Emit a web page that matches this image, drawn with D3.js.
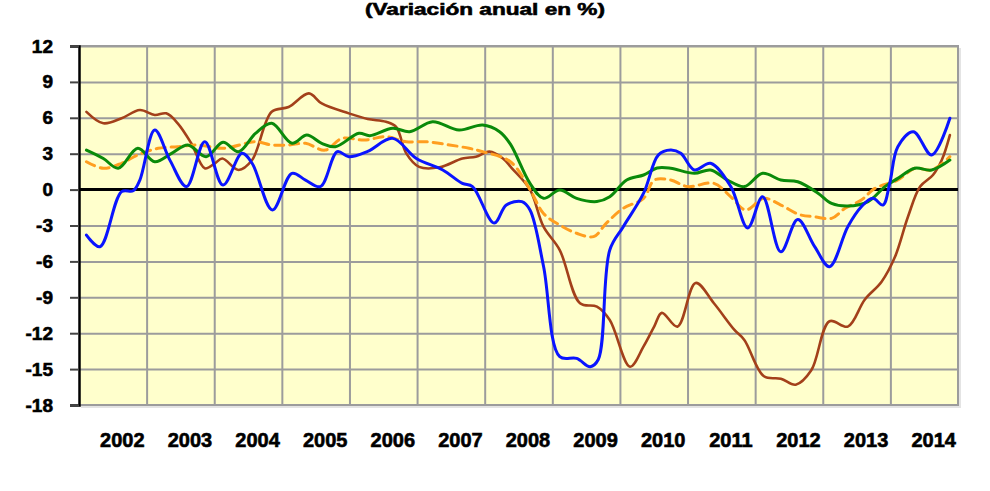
<!DOCTYPE html>
<html>
<head>
<meta charset="utf-8">
<script src="https://cdn.jsdelivr.net/npm/d3@7/dist/d3.min.js"></script>
<style>
  html, body { margin: 0; padding: 0; background: #ffffff; }
  svg { display: block; }
  text { font-family: "Liberation Sans", Arial, sans-serif; font-weight: bold; fill: #000; }
</style>
</head>
<body>
<svg id="chart" width="990" height="491"></svg>
<script>
// ---- Data ----
const titleText = "(Variación anual en %)";
const yearLabels = ["2002","2003","2004","2005","2006","2007","2008","2009","2010","2011","2012","2013","2014"];
const yTickValues = [12, 9, 6, 3, 0, -3, -6, -9, -12, -15, -18];

// [year (decimal), value]
const blueSeries = [
  [2002.11,-3.8],[2002.31,-4.77],[2002.63,-0.17],[2002.80,-0.1],[2002.90,0.8],[2003.12,4.98],
  [2003.35,2.4],[2003.59,0.25],[2003.86,4.0],[2004.13,0.38],[2004.41,3.03],[2004.56,2.2],
  [2004.86,-1.7],[2005.15,1.36],[2005.35,0.8],[2005.57,0.25],[2005.82,3.17],[2005.99,2.75],
  [2006.27,3.2],[2006.64,4.28],[2006.99,2.6],[2007.38,1.64],[2007.67,0.52],[2007.82,0.25],
  [2008.14,-2.8],[2008.32,-1.29],[2008.55,-1.0],[2008.67,-1.7],[2008.87,-6.4],[2009.11,-13.96],
  [2009.36,-14.1],[2009.56,-14.8],[2009.68,-14.2],[2009.85,-5.05],[2010.05,-3.1],[2010.35,-0.3],
  [2010.57,2.9],[2010.75,3.3],[2010.90,3.03],[2011.10,1.64],[2011.34,2.2],[2011.64,0.25],
  [2011.89,-3.2],[2012.11,-0.6],[2012.38,-5.2],[2012.63,-2.5],[2012.88,-4.77],[2013.10,-6.44],
  [2013.37,-3.1],[2013.57,-1.43],[2013.74,-0.73],[2013.89,-1.29],[2013.99,0.52],[2014.11,3.58],
  [2014.34,4.84],[2014.61,2.9],[2014.88,5.96]
];
const brownSeries = [
  [2002.11,6.5],[2002.36,5.54],[2002.63,5.96],[2002.90,6.65],[2003.12,6.23],[2003.29,6.37],
  [2003.46,5.54],[2003.66,3.87],[2003.86,1.78],[2004.01,2.2],[2004.12,2.6],[2004.36,1.64],
  [2004.56,2.47],[2004.85,6.5],[2005.10,6.9],[2005.40,8.04],[2005.59,7.2],[2005.99,6.37],
  [2006.27,5.9],[2006.54,5.67],[2006.69,5.25],[2006.84,3.03],[2007.03,1.9],[2007.33,1.86],
  [2007.67,2.6],[2007.87,2.75],[2008.07,3.17],[2008.27,2.6],[2008.40,1.8],[2008.67,0.0],
  [2008.87,-3.1],[2009.11,-5.05],[2009.41,-9.5],[2009.66,-9.78],[2009.85,-10.9],[2010.15,-14.8],
  [2010.35,-13.1],[2010.51,-11.4],[2010.62,-10.3],[2010.85,-11.45],[2011.12,-7.8],[2011.39,-9.5],
  [2011.69,-11.7],[2011.84,-12.56],[2012.13,-15.6],[2012.38,-15.8],[2012.60,-16.3],[2012.83,-15.1],
  [2013.10,-11.0],[2013.37,-11.45],[2013.62,-9.2],[2013.87,-7.7],[2014.07,-5.6],[2014.26,-2.27],
  [2014.44,0.25],[2014.63,1.22],[2014.76,2.47],[2014.88,4.56]
];
const greenSeries = [
  [2002.11,3.3],[2002.36,2.6],[2002.58,1.78],[2002.87,3.45],[2003.12,2.33],[2003.37,3.03],
  [2003.61,3.73],[2003.88,2.75],[2004.13,3.95],[2004.36,3.17],[2004.61,4.7],[2004.85,5.54],
  [2005.15,3.87],[2005.37,4.56],[2005.59,3.87],[2005.79,3.58],[2006.14,4.7],[2006.30,4.5],
  [2006.64,5.12],[2006.89,4.84],[2007.23,5.67],[2007.62,4.98],[2007.97,5.4],[2008.22,4.84],
  [2008.38,3.8],[2008.67,0.52],[2008.87,-0.73],[2009.11,-0.03],[2009.36,-0.73],[2009.66,-1.0],
  [2009.85,-0.6],[2010.10,0.8],[2010.35,1.22],[2010.55,1.8],[2010.75,1.78],[2011.10,1.36],
  [2011.34,1.64],[2011.59,0.8],[2011.84,0.25],[2012.11,1.36],[2012.38,0.8],[2012.63,0.66],
  [2012.93,-0.3],[2013.13,-1.15],[2013.37,-1.37],[2013.67,-1.0],[2013.92,0.25],[2014.11,0.94],
  [2014.36,1.78],[2014.61,1.64],[2014.88,2.47]
];
const orangeSeries = [
  [2002.11,2.33],[2002.36,1.78],[2002.63,2.2],[2002.87,2.9],[2003.17,3.45],[2003.46,3.58],
  [2003.76,3.73],[2004.13,3.45],[2004.61,4.0],[2004.85,3.73],[2005.10,3.73],[2005.35,3.87],
  [2005.64,3.3],[2005.89,4.28],[2006.22,4.14],[2006.54,4.42],[2006.84,4.0],[2007.13,4.0],
  [2007.48,3.73],[2007.77,3.45],[2007.97,3.17],[2008.38,2.33],[2008.67,0.0],[2008.87,-2.0],
  [2009.11,-2.96],[2009.36,-3.65],[2009.61,-3.93],[2009.80,-2.8],[2010.05,-1.56],[2010.35,-0.73],
  [2010.51,0.8],[2010.75,0.8],[2011.00,0.25],[2011.39,0.52],[2011.64,-0.6],[2011.86,-1.7],
  [2012.13,-0.73],[2012.38,-1.29],[2012.66,-2.1],[2012.88,-2.27],[2013.13,-2.4],[2013.33,-1.56],
  [2013.57,-0.87],[2013.77,0.1],[2014.11,0.8],[2014.36,1.78],[2014.61,1.64],[2014.88,2.75]
];

// ---- Layout ----
const svg = d3.select("#chart");
const L = 79, R = 958, T = 46, B = 405;
const x = d3.scaleLinear().domain([2002, 2015]).range([L, R]);
const y = d3.scaleLinear().domain([-18, 12]).range([B, T]);

// title
svg.append("text")
  .attr("x", 485).attr("y", 15)
  .attr("text-anchor", "middle")
  .attr("font-size", 17)
  .attr("stroke", "#000").attr("stroke-width", 0.6)
  .attr("textLength", 240).attr("lengthAdjust", "spacingAndGlyphs")
  .text(titleText);

// plot background
svg.append("rect")
  .attr("x", L).attr("y", T).attr("width", R - L).attr("height", B - T)
  .attr("fill", "#ffffcc");

// horizontal grid
const gy = svg.append("g").attr("transform", `translate(${L},0)`)
  .call(d3.axisLeft(y).tickValues(yTickValues).tickSize(-(R - L)).tickFormat(""));
gy.select(".domain").remove();
gy.selectAll("line").attr("stroke", "#9c9c9c").attr("stroke-width", 2);

// vertical grid
const gx = svg.append("g").attr("transform", `translate(0,${B})`)
  .call(d3.axisBottom(x).tickValues(d3.range(2003, 2015)).tickSize(-(B - T)).tickFormat(""));
gx.select(".domain").remove();
gx.selectAll("line").attr("stroke", "#9c9c9c").attr("stroke-width", 2);

// border (right, top, bottom)
svg.append("path")
  .attr("d", `M${L},${T}H${R}V${B}H${L}`)
  .attr("fill", "none").attr("stroke", "#9c9c9c").attr("stroke-width", 2);
svg.append("path")
  .attr("d", `M${R + 2},${T + 2}V${B + 2}H${L + 2}`)
  .attr("fill", "none").attr("stroke", "#e4e4e4").attr("stroke-width", 2);

// y axis with labels
const ya = svg.append("g").attr("transform", `translate(${L},0)`)
  .call(d3.axisLeft(y).tickValues(yTickValues).tickSize(9).tickPadding(17).tickFormat(d => String(d)));
ya.select(".domain").attr("stroke", "#000").attr("stroke-width", 2.5);
ya.selectAll(".tick line").attr("stroke", "#444").attr("stroke-width", 2);
ya.selectAll(".tick text")
  .attr("font-size", 19).attr("font-family", "Liberation Sans, Arial, sans-serif")
  .attr("font-weight", "bold").attr("fill", "#000")
  .attr("stroke", "#000").attr("stroke-width", 0.6);

// x axis labels
const xa = svg.append("g").attr("transform", `translate(0,${B})`)
  .call(d3.axisBottom(x).tickValues(yearLabels.map((d, i) => 2002.5 + i))
    .tickSize(0).tickPadding(28).tickFormat((d, i) => yearLabels[i]));
xa.select(".domain").remove();
xa.selectAll(".tick text")
  .attr("dx", 9)
  .attr("font-size", 20).attr("font-family", "Liberation Sans, Arial, sans-serif")
  .attr("font-weight", "bold").attr("fill", "#000")
  .attr("stroke", "#000").attr("stroke-width", 0.6);

// zero line
svg.append("line")
  .attr("x1", L).attr("x2", R).attr("y1", y(0)).attr("y2", y(0))
  .attr("stroke", "#000").attr("stroke-width", 3);

// lines
const line = d3.line().x(d => x(d[0])).y(d => y(d[1])).curve(d3.curveCatmullRom.alpha(0.5));
const series = [
  { data: brownSeries, color: "#a3401a", width: 2.6, dash: null },
  { data: orangeSeries, color: "#ff9e1f", width: 3, dash: "9,6" },
  { data: greenSeries, color: "#0a8a0a", width: 3, dash: null },
  { data: blueSeries, color: "#0a14ff", width: 3, dash: null }
];
svg.append("g").selectAll("path").data(series).join("path")
  .attr("d", s => line(s.data))
  .attr("fill", "none")
  .attr("stroke", s => s.color)
  .attr("stroke-width", s => s.width)
  .attr("stroke-dasharray", s => s.dash)
  .attr("stroke-linejoin", "round")
  .attr("stroke-linecap", "round");
</script>
</body>
</html>
